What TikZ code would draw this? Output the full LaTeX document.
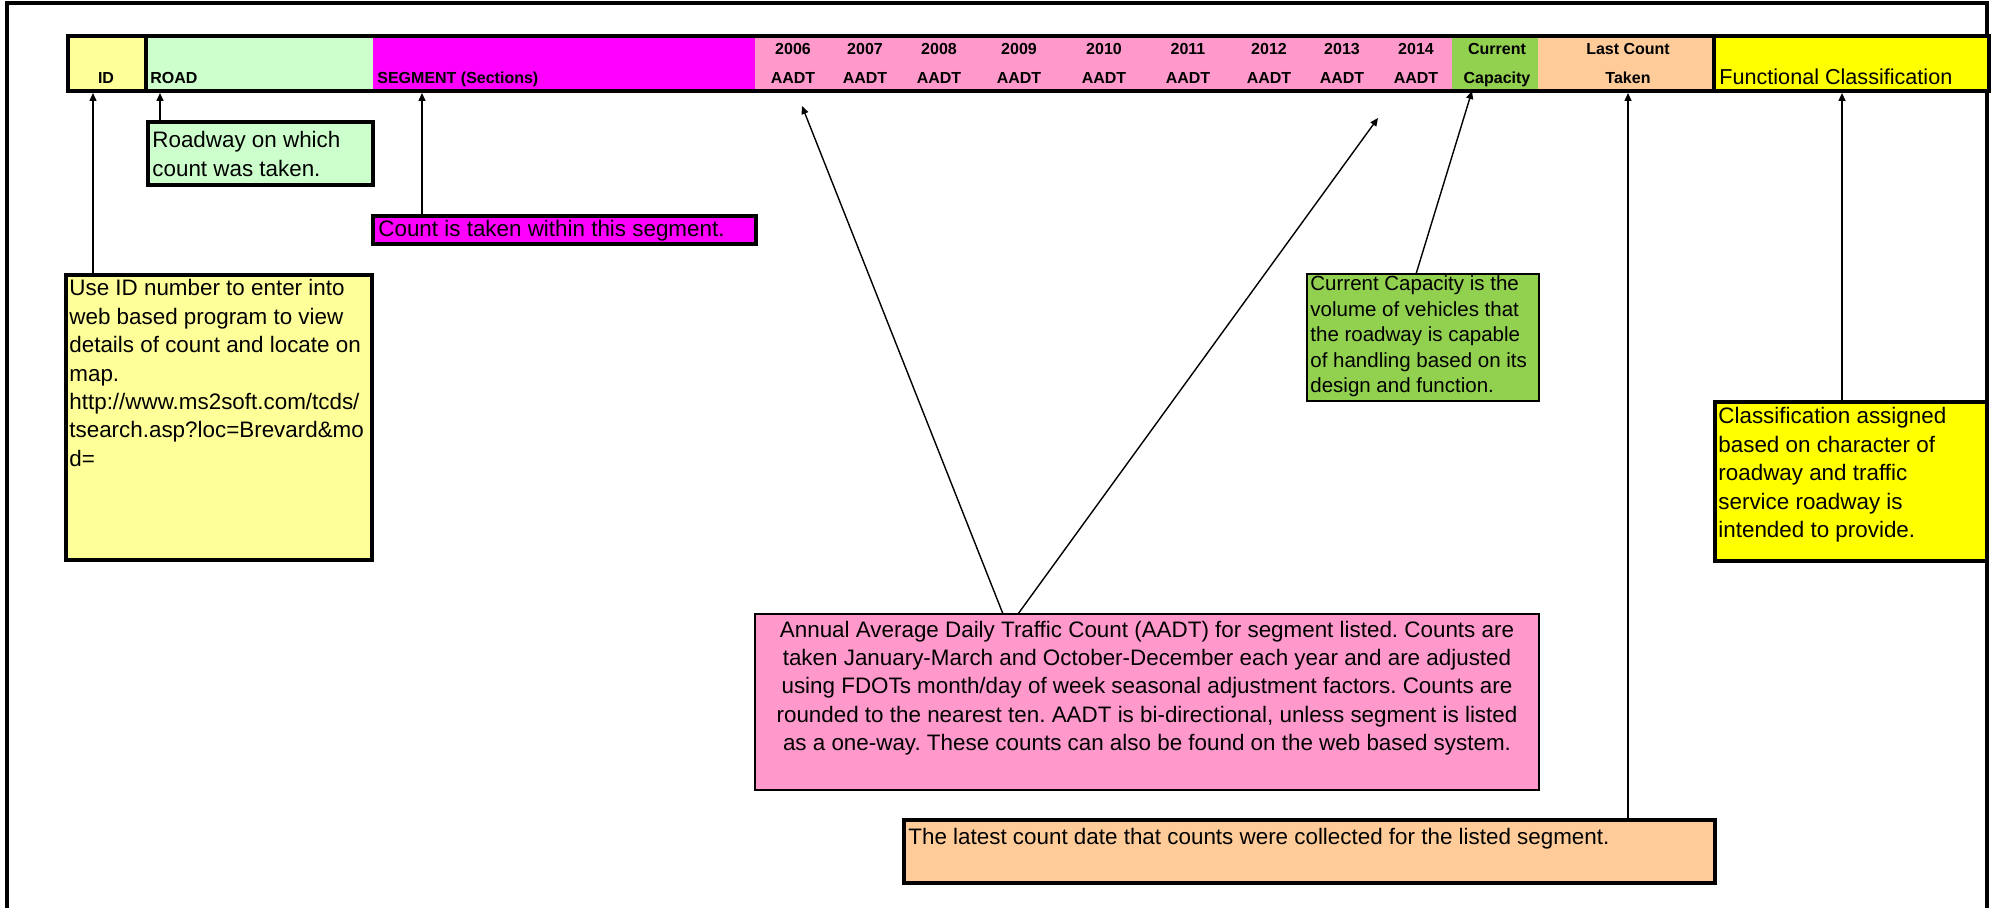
\documentclass[tikz,border=0pt]{standalone}
\usepackage{fontspec}
\setmainfont{Liberation Sans}
\usetikzlibrary{arrows.meta,calc}
\definecolor{idyel}{HTML}{FFFF99}
\definecolor{roadgrn}{HTML}{CCFFCC}
\definecolor{segmag}{HTML}{FF00FF}
\definecolor{aadtpink}{HTML}{FF99CC}
\definecolor{capgrn}{HTML}{92D050}
\definecolor{lastpeach}{HTML}{FFCC99}
\definecolor{funcyel}{HTML}{FFFF00}
\newcommand{\bodyfnt}{\fontsize{11.2}{14.2}\selectfont}
\newcommand{\capfnt}{\fontsize{10.25}{12.75}\selectfont}
\newcommand{\hdrfnt}{\fontsize{8}{9.6}\selectfont\bfseries}
\frenchspacing
\begin{document}
\frenchspacing
\begin{tikzpicture}[x=0.5pt,y=-0.5pt,
  thickbox/.style={draw=black, line width=2pt, inner sep=0pt, outer sep=0pt, anchor=north west},
  thinbox/.style={draw=black, line width=1pt, inner sep=0pt, outer sep=0pt, anchor=north west},
  hdrtxt/.style={anchor=base, inner sep=0pt, font=\hdrfnt},
  hdrleft/.style={anchor=base west, inner sep=0pt, font=\hdrfnt},
  boxtxt/.style={anchor=base west, inner sep=0pt, font=\bodyfnt},
  arr/.style={-{Triangle[length=4pt,width=3.5pt]}, line width=0.7pt}]
\useasboundingbox (0,0) rectangle (1995,908);
\fill[white] (0,0) rectangle (1995,908);
% outer frame
\draw[line width=2pt] (6.5,908) -- (6.5,2.7) -- (1987,2.7) -- (1987,908);
% header cells
\fill[idyel] (66,34) rectangle (146,89);
\fill[roadgrn] (146,34) rectangle (373,89);
\fill[segmag] (373,34) rectangle (755,89);
\fill[aadtpink] (755,34) rectangle (1452,89);
\fill[capgrn] (1452,34) rectangle (1538,89);
\fill[lastpeach] (1538,34) rectangle (1714,89);
\fill[funcyel] (1714,34) rectangle (1987,89);
\node[draw=black, line width=2pt, inner sep=0pt, outer sep=1pt, anchor=north west,
  minimum width=1921*0.5pt, minimum height=55*0.5pt] (hdr) at (66,34) {};
\draw[line width=2pt] (146,34) -- (146,89);
\draw[line width=2pt] (1714,34) -- (1714,89);
% header texts
\node[hdrtxt] (hid) at (106,84) {ID};
\node[hdrleft] (hroad) at (150,84) {ROAD};
\node[hdrleft] (hseg) at (377,84) {SEGMENT (Sections)};
\foreach \xx/\yr [count=\i] in {793/2006,865/2007,939/2008,1019/2009,1104/2010,1188/2011,1269/2012,1342/2013,1416/2014}{
  \node[hdrtxt] (hy\i) at (\xx,55) {\yr};
  \node[hdrtxt] (ha\i) at (\xx,84) {AADT};
}
\node[hdrtxt] (hcur) at (1497,55) {Current};
\node[hdrtxt] (hcap) at (1497,84) {Capacity};
\node[hdrtxt] (hlast) at (1628,55) {Last Count};
\node[hdrtxt] (htaken) at (1628,84) {Taken};
\node[anchor=base west, inner sep=0pt, font=\fontsize{10.8}{13}\selectfont] (hfunc) at (1719,85) {Functional Classification};
% boxes
\node[thickbox, fill=idyel, minimum width=306*0.5pt, minimum height=285*0.5pt] (idbox) at (66,275) {};
\node[thickbox, fill=roadgrn, minimum width=225*0.5pt, minimum height=63*0.5pt] (road) at (148,122) {};
\node[thickbox, fill=segmag, minimum width=383*0.5pt, minimum height=28*0.5pt] (seg) at (373,216) {};
\node[thinbox, fill=capgrn, minimum width=232*0.5pt, minimum height=127*0.5pt] (cap) at (1307,274) {};
\node[thickbox, fill=funcyel, minimum width=272*0.5pt, minimum height=159*0.5pt] (func) at (1715,402) {};
\node[thinbox, line width=1.2pt, fill=aadtpink, minimum width=784*0.5pt, minimum height=176*0.5pt] (aadt) at (755,614) {};
\node[thickbox, fill=lastpeach, minimum width=811*0.5pt, minimum height=63*0.5pt] (last) at (904,820) {};
% box texts
\node[boxtxt] (idtxt) at ($(idbox.north west)+(3,21)$) {\parbox[t]{200pt}{\raggedright Use ID number to enter into\\web based program to view\\details of count and locate on\\map.\\http://www.ms2soft.com/tcds/\\tsearch.asp?loc=Brevard\&mo\\d=}};
\node[boxtxt] (roadtxt) at ($(road.north west)+(4,26)$) {\parbox[t]{150pt}{\raggedright Roadway on which\\count was taken.}};
\node[boxtxt] (segtxt) at ($(seg.north west)+(5,21)$) {Count is taken within this segment.};
\node[anchor=base west, inner sep=0pt, font=\capfnt] (captxt) at ($(cap.north west)+(3,17)$) {\parbox[t]{150pt}{\raggedright Current Capacity is the\\volume of vehicles that\\the roadway is capable\\of handling based on its\\design and function.}};
\node[boxtxt] (functxt) at ($(func.north west)+(3,22)$) {\parbox[t]{150pt}{\raggedright Classification assigned\\based on character of\\roadway and traffic\\service roadway is\\intended to provide.}};
\node[anchor=base, inner sep=0pt, font=\bodyfnt] (aadttxt) at ($(aadt.north)+(0,23)$) {\parbox[t]{390pt}{\centering Annual Average Daily Traffic Count (AADT) for segment listed. Counts are\\taken January-March and October-December each year and are adjusted\\using FDOTs month/day of week seasonal adjustment factors. Counts are\\rounded to the nearest ten. AADT is bi-directional, unless segment is listed\\as a one-way. These counts can also be found on the web based system.}};
\node[boxtxt] (lasttxt) at ($(last.north west)+(4,24)$) {The latest count date that counts were collected for the listed segment.};
% connectors
\coordinate (cid) at ($(idbox.north west)+(27,0)$);
\coordinate (croad) at ($(road.north west)+(12,0)$);
\coordinate (cseg) at ($(seg.north west)+(49,0)$);
\coordinate (ccap) at ($(cap.north west)+(109,0)$);
\coordinate (cfunc) at ($(func.north west)+(127,0)$);
\coordinate (clast) at ($(last.north west)+(724,0)$);
\coordinate (caadtA) at ($(aadt.north west)+(248,0)$);
\coordinate (caadtB) at ($(aadt.north west)+(263,0)$);
\coordinate (tipA) at (802,106);
\coordinate (tipB) at (1378,118);
\coordinate (tipcap) at (1472,91);
\draw[arr] (cid) -- (cid |- hdr.south);
\draw[arr] (croad) -- (croad |- hdr.south);
\draw[arr] (cseg) -- (cseg |- hdr.south);
\draw[arr] (ccap) -- (tipcap);
\draw[arr] (cfunc) -- (cfunc |- hdr.south);
\draw[arr] (clast) -- (clast |- hdr.south);
\draw[arr] (caadtA) -- (tipA);
\draw[arr] (caadtB) -- (tipB);
\end{tikzpicture}
\end{document}
